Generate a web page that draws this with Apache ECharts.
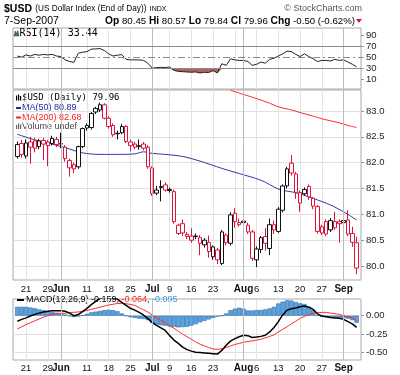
<!DOCTYPE html>
<html><head><meta charset="utf-8">
<script src="https://cdn.jsdelivr.net/npm/echarts@6/dist/echarts.min.js"></script>
<style>html,body{margin:0;padding:0;background:#fff;}#c{width:400px;height:375px;}</style>
</head><body><div id="c"></div>
<script>
// ---------- data ----------
const dates = ['2007-05-17','2007-05-18','2007-05-21','2007-05-22','2007-05-23','2007-05-24','2007-05-25','2007-05-29','2007-05-30','2007-05-31',
'2007-06-01','2007-06-04','2007-06-05','2007-06-06','2007-06-07','2007-06-08','2007-06-11','2007-06-12','2007-06-13','2007-06-14',
'2007-06-15','2007-06-18','2007-06-19','2007-06-20','2007-06-21','2007-06-22','2007-06-25','2007-06-26','2007-06-27','2007-06-28',
'2007-06-29','2007-07-02','2007-07-03','2007-07-05','2007-07-06','2007-07-09','2007-07-10','2007-07-11','2007-07-12','2007-07-13',
'2007-07-16','2007-07-17','2007-07-18','2007-07-19','2007-07-20','2007-07-23','2007-07-24','2007-07-25','2007-07-26','2007-07-27',
'2007-07-30','2007-07-31','2007-08-01','2007-08-02','2007-08-03','2007-08-06','2007-08-07','2007-08-08','2007-08-09','2007-08-10',
'2007-08-13','2007-08-14','2007-08-15','2007-08-16','2007-08-17','2007-08-20','2007-08-21','2007-08-22','2007-08-23','2007-08-24',
'2007-08-27','2007-08-28','2007-08-29','2007-08-30','2007-08-31','2007-09-04','2007-09-05','2007-09-06','2007-09-07'];

const open  = [82.12,82.37,82.13,82.40,82.42,82.31,82.43,82.40,82.37,82.45,
82.36,82.30,82.04,81.96,81.92,82.31,82.67,82.68,82.98,83.02,
83.12,82.86,82.72,82.56,82.58,82.70,82.40,82.36,82.31,82.36,
82.30,81.90,81.41,81.52,81.57,81.46,81.44,80.63,80.82,80.61,
80.58,80.57,80.55,80.41,80.46,80.18,80.31,80.05,80.60,80.44,
81.02,80.84,80.84,80.79,80.66,80.12,80.32,80.57,80.34,80.80,
80.67,81.08,81.55,81.99,81.78,81.42,81.40,81.54,81.31,81.15,
80.76,80.86,80.70,80.74,80.86,80.84,80.89,80.63,80.45];
const high  = [82.41,82.44,82.45,82.50,82.48,82.46,82.48,82.44,82.52,82.50,
82.58,82.34,82.08,82.00,82.33,82.68,82.76,82.98,83.08,83.16,
83.15,82.90,82.76,82.62,82.75,82.73,82.45,82.40,82.45,82.40,
82.34,81.93,81.55,81.66,81.62,81.52,81.48,80.82,80.90,80.66,
80.73,80.63,80.60,80.54,80.59,80.40,80.35,80.70,80.63,81.04,
81.12,80.92,80.90,80.84,80.70,80.38,80.58,80.73,80.92,80.88,
81.14,81.58,81.92,82.15,81.82,81.46,81.52,81.58,81.34,81.18,
80.80,80.90,80.93,81.05,80.90,81.18,81.08,80.76,80.57];
const low   = [82.08,82.10,82.08,81.98,82.20,82.26,82.05,81.93,82.33,82.30,
82.28,82.02,81.73,81.80,81.88,82.28,82.62,82.64,82.94,82.98,
82.84,82.66,82.50,82.45,82.55,82.38,82.22,82.26,82.25,82.24,
81.88,81.36,81.37,81.25,81.44,81.42,80.82,80.60,80.58,80.52,
80.45,80.52,80.21,80.36,80.16,80.12,80.04,80.02,80.40,80.40,
80.74,80.76,80.80,80.62,80.10,79.98,80.25,80.30,80.21,80.62,
80.64,81.04,81.50,81.75,81.30,81.05,81.36,81.28,81.10,80.63,
80.60,80.58,80.66,80.70,80.45,80.76,80.58,80.37,79.84];
const close = [82.35,82.16,82.38,82.30,82.28,82.42,82.36,82.33,82.47,82.35,
82.37,82.08,81.90,81.88,82.31,82.66,82.72,82.95,83.05,83.12,
82.86,82.70,82.54,82.57,82.70,82.41,82.33,82.30,82.33,82.28,
81.92,81.40,81.47,81.54,81.47,81.48,80.86,80.79,80.64,80.57,
80.50,80.58,80.44,80.50,80.28,80.37,80.12,80.66,80.45,80.99,
80.86,80.80,80.87,80.66,80.15,80.33,80.55,80.44,80.80,80.70,
81.10,81.55,81.88,81.80,81.42,81.22,81.48,81.34,81.16,80.67,
80.64,80.62,80.88,80.86,80.82,80.88,80.62,80.46,79.96];

const rsi14 = [53,51,55,53,56,54.5,56,55,56,53,
52,46,43,41.5,58,60,61,65.5,66,66.5,
63,57,53,54.5,55.6,47,46,46,46,45,
40,31,32,32.5,32,33,27,25,24.5,24,
23.5,24,22.2,23.4,23,26.4,22.2,39,36,48,
46,45,45,43,36,38,42,40,47,49,
53,57,62,61,56,52,57,52,48,43,
45,45,44,47,45,46,42,38,33.44];

const ma50Days = ['2007-05-17','2007-05-23','2007-05-29','2007-06-04','2007-06-08','2007-06-14','2007-06-20','2007-06-26','2007-06-28','2007-07-02',
'2007-07-06','2007-07-12','2007-07-18','2007-07-25','2007-07-31','2007-08-07','2007-08-13','2007-08-15','2007-08-17','2007-08-23',
'2007-08-29','2007-09-04','2007-09-07'];
const ma50Vals = [82.55,82.44,82.38,82.29,82.19,82.16,82.16,82.17,82.21,82.18,
82.16,82.12,82.03,81.89,81.79,81.66,81.49,81.45,81.42,81.31,
81.18,81.05,80.89];

const ma200Days = ['2007-07-27','2007-08-01','2007-08-06','2007-08-09','2007-08-13','2007-08-16','2007-08-20','2007-08-23','2007-08-27','2007-08-29',
'2007-08-31','2007-09-05','2007-09-07'];
const ma200Vals = [83.40,83.32,83.24,83.15,83.08,83.02,82.97,82.90,82.85,82.81,82.77,82.72,82.68];

const macdLine = [-0.075,-0.05,-0.03,-0.005,0.018,0.035,0.05,0.06,0.066,0.068,
0.068,0.06,0.035,0.0,0.015,0.055,0.10,0.15,0.195,0.235,
0.25,0.248,0.24,0.225,0.18,0.14,0.10,0.075,0.045,0.01,
-0.04,-0.09,-0.13,-0.165,-0.20,-0.27,-0.33,-0.375,-0.425,-0.46,
-0.48,-0.495,-0.50,-0.505,-0.51,-0.515,-0.52,-0.47,-0.40,-0.345,
-0.31,-0.285,-0.265,-0.27,-0.295,-0.29,-0.28,-0.265,-0.22,-0.16,
-0.08,0.01,0.075,0.095,0.105,0.12,0.13,0.115,0.085,0.025,
-0.005,-0.015,-0.025,-0.03,-0.036,-0.05,-0.08,-0.11,-0.159];
const signalLine = [-0.18,-0.15,-0.12,-0.095,-0.07,-0.045,-0.02,0.0,0.02,0.03,
0.032,0.034,0.04,0.046,0.05,0.06,0.07,0.085,0.10,0.115,
0.13,0.145,0.155,0.165,0.168,0.162,0.152,0.14,0.11,0.08,
0.05,0.01,-0.03,-0.06,-0.10,-0.14,-0.17,-0.21,-0.25,-0.285,
-0.32,-0.355,-0.385,-0.41,-0.43,-0.45,-0.455,-0.448,-0.43,-0.41,
-0.39,-0.375,-0.36,-0.35,-0.34,-0.33,-0.32,-0.30,-0.28,-0.26,
-0.22,-0.185,-0.15,-0.11,-0.075,-0.036,-0.01,0.015,0.032,0.04,
0.045,0.045,0.035,0.027,0.018,0.0,-0.015,-0.035,-0.064];
const histVals = [0.12,0.12,0.12,0.11,0.10,0.085,0.075,0.06,0.05,0.04,
0.03,0.015,-0.005,-0.018,-0.01,0.005,0.025,0.045,0.055,0.065,
0.075,0.08,0.075,0.06,0.03,0.0,-0.02,-0.03,-0.04,-0.045,
-0.06,-0.10,-0.12,-0.13,-0.135,-0.145,-0.15,-0.158,-0.155,-0.15,
-0.135,-0.115,-0.09,-0.07,-0.05,-0.03,-0.012,0.0,0.03,0.075,
0.095,0.108,0.095,0.07,0.07,0.077,0.077,0.085,0.099,0.12,
0.165,0.19,0.21,0.205,0.185,0.167,0.158,0.12,0.08,0.01,
-0.013,-0.02,-0.02,-0.025,-0.028,-0.03,-0.04,-0.06,-0.095];

const priceTicks = [80.0,80.5,81.0,81.5,82.0,82.5,83.0];
const rsiTicks = [10,30,50,70,90];
const macdTicks = [0,-0.25,-0.5];
const dateTickDays = ['2007-05-21','2007-05-29','2007-06-01','2007-06-11','2007-06-18','2007-06-25','2007-07-02','2007-07-09','2007-07-16','2007-07-23',
'2007-08-01','2007-08-06','2007-08-13','2007-08-20','2007-08-27','2007-09-04'];
const dateTickText = ['21','29','Jun','11','18','25','Jul','9','16','23','Aug','6','13','20','27','Sep'];
const monthDays = ['2007-06-01','2007-07-02','2007-08-01','2007-09-04'];
const weekDays = ['2007-05-21','2007-05-29','2007-06-11','2007-06-18','2007-06-25','2007-07-09','2007-07-16','2007-07-23','2007-07-30','2007-08-06','2007-08-13','2007-08-20','2007-08-27'];

// ---------- build ----------
const cats = ['', ...dates, ' '];
const RED = '#dc143c', BLK = '#111';
const FONT = 'Liberation Sans';
const monoFont = 'DejaVu Sans Mono';

const candleData = dates.map((d, k) => {
  const prev = k > 0 ? close[k - 1] : close[k] - 1;
  const col = close[k] < prev ? RED : BLK;
  return { value: [d, open[k], close[k], low[k], high[k]],
    itemStyle: { color: '#fff', color0: col, borderColor: col, borderColor0: col, borderWidth: 1 } };
});

const gridL = 13, gridW = 348;
const grids = [
  { left: gridL, top: 28, width: gridW, height: 61 },
  { left: gridL, top: 90, width: gridW, height: 190 },
  { left: gridL, top: 299, width: gridW, height: 61 }
].map(g => Object.assign(g, { show: true, borderColor: '#a8a8a8', borderWidth: 1, backgroundColor: '#fff' }));

function xAxis(gi, showLabels) {
  return {
    type: 'category', gridIndex: gi, data: cats, boundaryGap: false,
    axisLine: { show: false }, axisTick: { show: false },
    axisLabel: {
      show: showLabels, margin: gi === 1 ? 4 : 3,
      interval: (idx, val) => dateTickDays.indexOf(val) >= 0,
      formatter: (val) => {
        const j = dateTickDays.indexOf(val);
        if (j < 0) return '';
        const t = dateTickText[j];
        return /[A-Za-z]/.test(t) ? '{m|' + t + '}' : t;
      },
      fontFamily: FONT, fontSize: 9.5, color: '#111',
      rich: { m: { fontFamily: FONT, fontSize: 10, fontWeight: 'bold', color: '#111' } }
    },
    splitLine: { show: true, interval: (idx, val) => weekDays.indexOf(val) >= 0, lineStyle: { color: '#e3e3e3', width: 1 } }
  };
}
const monthLines = monthDays.map(d => ({ xAxis: d, lineStyle: { color: '#bcbcbc', width: 1, type: 'solid' } }));
const mlBase = { silent: true, symbol: ['none', 'none'], label: { show: false }, animation: false };

function yAxis(gi, min, max, ticks, fmt) {
  return {
    type: 'value', gridIndex: gi, position: 'right', min, max, scale: true,
    axisLine: { show: false },
    axisTick: { show: true, length: 3, customValues: ticks, lineStyle: { color: '#999' } },
    axisLabel: { customValues: ticks, formatter: fmt, fontFamily: FONT, fontSize: 9.5, color: '#222', margin: 5 },
    splitLine: { show: gi !== 0, lineStyle: { color: '#e0e0e0', width: 1 } }
  };
}

const option = {
  animation: false,
  backgroundColor: '#fff',
  grid: grids,
  xAxis: [xAxis(0, false), xAxis(1, true), xAxis(2, true)],
  yAxis: [
    yAxis(0, -7, 104, rsiTicks, v => String(v)),
    yAxis(1, 79.73, 83.406, priceTicks, v => v.toFixed(1)),
    yAxis(2, -0.6, 0.226, macdTicks, v => v.toFixed(2))
  ],
  series: [
    { type: 'line', xAxisIndex: 0, yAxisIndex: 0, symbol: 'none', silent: true,
      data: dates.map((d, k) => [d, Math.min(rsi14[k], 30)]),
      lineStyle: { width: 0, color: '#b35d58' }, areaStyle: { origin: 30, color: '#b4625d', opacity: 1 }, z: 2 },
    { type: 'line', xAxisIndex: 0, yAxisIndex: 0, symbol: 'none', silent: true,
      data: dates.map((d, k) => [d, rsi14[k]]),
      lineStyle: { width: 1, color: '#222' }, z: 3,
      markLine: Object.assign({}, mlBase, { data: monthLines.concat([
        { yAxis: 70, lineStyle: { color: '#8a8a8a', width: 1, type: 'solid' } },
        { yAxis: 30, lineStyle: { color: '#8a8a8a', width: 1, type: 'solid' } },
        { yAxis: 50, lineStyle: { color: '#8a8a8a', width: 1, type: [7, 3, 2, 3] } }
      ]) }) },
    { type: 'candlestick', xAxisIndex: 1, yAxisIndex: 1, silent: true, barWidth: 4, barMinWidth: 4,
      encode: { x: 0, y: [1, 2, 3, 4] }, data: candleData, z: 4,
      markLine: Object.assign({}, mlBase, { data: monthLines }) },
    { type: 'line', xAxisIndex: 1, yAxisIndex: 1, symbol: 'none', silent: true, smooth: 0.3,
      data: ma50Days.map((d, k) => [d, ma50Vals[k]]), lineStyle: { width: 1, color: '#2e3aa0' }, z: 3 },
    { type: 'line', xAxisIndex: 1, yAxisIndex: 1, symbol: 'none', silent: true, smooth: 0.3,
      data: ma200Days.map((d, k) => [d, ma200Vals[k]]), lineStyle: { width: 1, color: '#ff2b2b' }, z: 3 },
    { type: 'bar', xAxisIndex: 2, yAxisIndex: 2, silent: true, barWidth: '100%',
      data: dates.map((d, k) => [d, histVals[k]]),
      itemStyle: { color: '#5ea3dc', borderColor: '#2c6db0', borderWidth: 0.6 }, z: 2,
      markLine: Object.assign({}, mlBase, { data: monthLines }) },
    { type: 'line', xAxisIndex: 2, yAxisIndex: 2, symbol: 'none', silent: true,
      data: dates.map((d, k) => [d, signalLine[k]]), lineStyle: { width: 1, color: '#ff2b2b' }, z: 3 },
    { type: 'line', xAxisIndex: 2, yAxisIndex: 2, symbol: 'none', silent: true,
      data: dates.map((d, k) => [d, macdLine[k]]), lineStyle: { width: 1.5, color: '#000' }, z: 4 }
  ],
  graphic: [
    { type: 'text', x: 4, y: 9, style: { text: '{a|$USD} {b|(US Dollar Index (End of Day))} {c|INDX}', verticalAlign: 'middle',
      rich: { a: { fontFamily: FONT, fontSize: 10.5, fontWeight: 'bold', fill: '#000' }, b: { fontFamily: FONT, fontSize: 8.2, fill: '#000' }, c: { fontFamily: FONT, fontSize: 7, fill: '#000' } } } },
    { type: 'text', x: 362, y: 9, style: { text: '\u00A9 StockCharts.com', align: 'right', verticalAlign: 'middle', font: '9px ' + FONT, fill: '#555' } },
    { type: 'text', x: 4, y: 21, style: { text: '7-Sep-2007', verticalAlign: 'middle', font: '10.5px ' + FONT, fill: '#000' } },
    { type: 'text', x: 355, y: 21, style: { text: '{b|Op} 80.45 {b|Hi} 80.57 {b|Lo} 79.84 {b|Cl} 79.96 {b|Chg} -0.50 (-0.62%)', align: 'right', verticalAlign: 'middle',
      font: '9.7px ' + FONT, fill: '#000', rich: { b: { fontFamily: FONT, fontSize: 10.2, fontWeight: 'bold', fill: '#000' } } } },
    { type: 'polygon', shape: { points: [[356, 19], [362, 19], [359, 23]] }, style: { fill: RED } },
    { type: 'polygon', shape: { points: [[14, 36], [15.3, 31], [16.5, 34], [17.7, 30.5], [19, 36]] }, style: { fill: '#3c8c3c', stroke: '#222', lineWidth: 0.5 } },
    { type: 'text', x: 19.5, y: 33, style: { text: 'RSI(14) 33.44', verticalAlign: 'middle', font: '10px ' + monoFont, fill: '#000' } },
    { type: 'rect', shape: { x: 16, y: 95.5, width: 1.2, height: 5 }, style: { fill: '#000' } },
    { type: 'rect', shape: { x: 18, y: 94.5, width: 1.2, height: 6 }, style: { fill: '#000' } },
    { type: 'rect', shape: { x: 20, y: 96, width: 1.2, height: 4.5 }, style: { fill: '#000' } },
    { type: 'text', x: 22, y: 98, style: { text: '$USD (Daily) 79.96', verticalAlign: 'middle', font: '9px ' + monoFont, fill: '#000' } },
    { type: 'text', x: 22, y: 108, style: { text: 'MA(50) 80.89', verticalAlign: 'middle', font: '9px ' + FONT, fill: '#1f2a9c' } },
    { type: 'line', shape: { x1: 16, y1: 108, x2: 21, y2: 108 }, style: { stroke: '#1f2a9c', lineWidth: 2 } },
    { type: 'text', x: 22, y: 117.5, style: { text: 'MA(200) 82.68', verticalAlign: 'middle', font: '9px ' + FONT, fill: '#ff2020' } },
    { type: 'line', shape: { x1: 16, y1: 117.5, x2: 21, y2: 117.5 }, style: { stroke: '#ff2020', lineWidth: 2 } },
    { type: 'rect', shape: { x: 16, y: 125, width: 1.2, height: 4 }, style: { fill: '#666' } },
    { type: 'rect', shape: { x: 18, y: 123.5, width: 1.2, height: 5.5 }, style: { fill: '#666' } },
    { type: 'rect', shape: { x: 20, y: 124.5, width: 1.2, height: 4.5 }, style: { fill: '#666' } },
    { type: 'text', x: 22, y: 127, style: { text: 'Volume undef', verticalAlign: 'middle', font: '9px ' + FONT, fill: '#444' } },
    { type: 'text', x: 26, y: 300, style: { text: 'MACD(12,26,9) -0.159, {r|-0.064}, {b|-0.095}', verticalAlign: 'middle', font: '9px ' + FONT, fill: '#000',
      rich: { r: { fontFamily: FONT, fontSize: 9, fill: '#ff2020' }, b: { fontFamily: FONT, fontSize: 9, fill: '#3b9de0' } } } },
    { type: 'line', shape: { x1: 17, y1: 300, x2: 24, y2: 300 }, style: { stroke: '#000', lineWidth: 2 } }
  ]
};
const chart = echarts.init(document.getElementById('c'), null, { renderer: 'canvas' });
chart.setOption(option);
</script></body></html>
